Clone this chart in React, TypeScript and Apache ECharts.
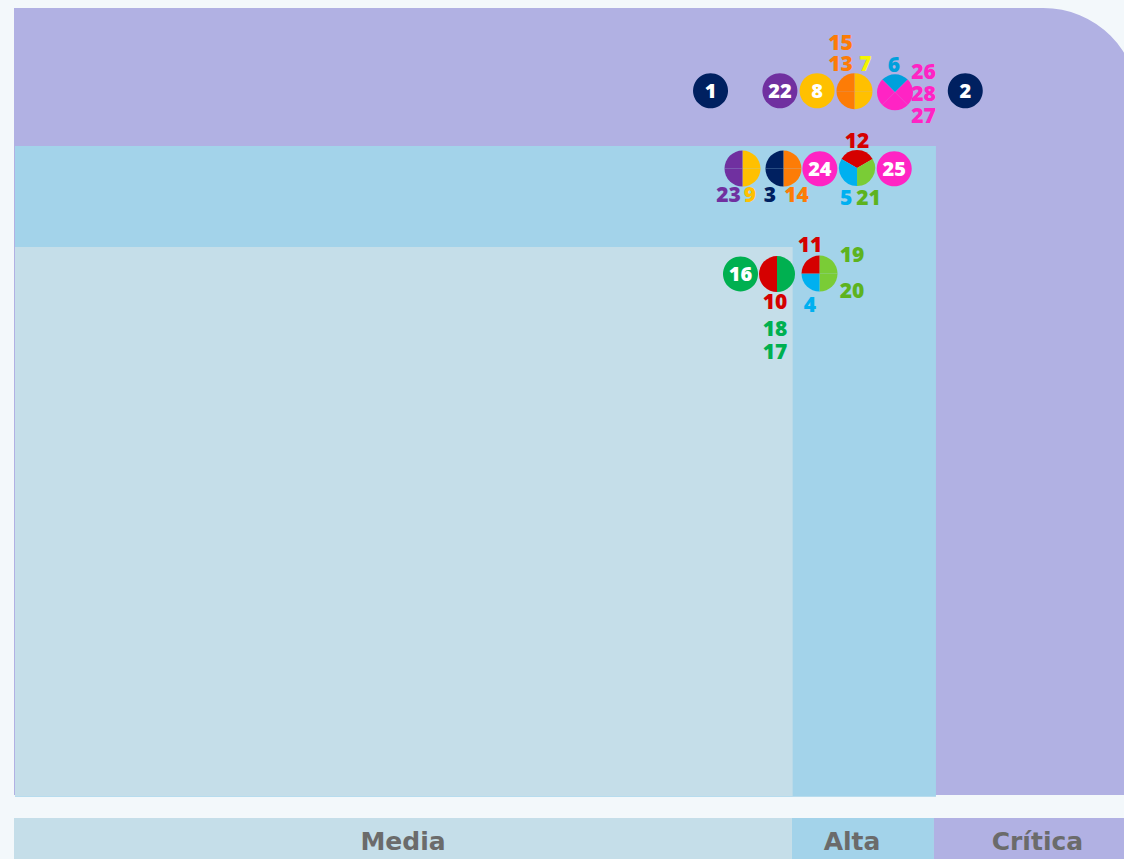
import React, { useEffect, useRef } from "react";
import * as echarts from "echarts";

// Risk zones (x = impacto, y = probabilidad, 0..100 scale)
const zoneNames = ["Media", "Alta", "Crítica"];
const zoneImpactMax = [70.15, 83.06, 101.3];
const zoneProbMax = [69.67, 82.49, 100];
const bandLabelX = [35.05, 75.5, 92.2];

// Single-risk markers
const singleIds = ["1", "22", "8", "2", "24", "25", "16"];
const singleX = [62.75, 69.0, 72.35, 85.7, 72.6, 79.3, 65.45];
const singleY = [89.5, 89.5, 89.5, 89.5, 79.6, 79.6, 66.25];

// Multi-risk markers (clusters)
const clusterX = [75.72, 79.37, 65.63, 69.32, 75.95, 68.74, 72.57];
const clusterY = [89.45, 89.3, 79.63, 79.63, 79.7, 66.24, 66.3];
const clusterRisks = [
  ["15", "13", "7"],
  ["6", "26", "28", "27"],
  ["23", "9"],
  ["3", "14"],
  ["12", "5", "21"],
  ["10", "18", "17"],
  ["11", "4", "19", "20"],
];

// Layout: segment of each cluster (risk id, start deg, end deg; clockwise from right)
const clusterSegments: [string, number, number][][] = [
  [["7", -90, 0], ["7", 0, 90], ["13", 90, 180], ["15", 180, 270]],
  [["6", -135, -45], ["26", -45, 45], ["28", 45, 135], ["27", 135, 225]],
  [["9", -90, 0], ["9", 0, 90], ["23", 90, 180], ["23", 180, 270]],
  [["14", -90, 0], ["14", 0, 90], ["3", 90, 180], ["3", 180, 270]],
  [["12", -150, -30], ["21", -30, 90], ["5", 90, 210]],
  [["18", -90, 0], ["17", 0, 90], ["10", 90, 180], ["10", 180, 270]],
  [["19", -90, 0], ["20", 0, 90], ["4", 90, 180], ["11", 180, 270]],
];
// Layout: label offsets (px) from the cluster centre, in clusterRisks order
const clusterLabelOffsets: [number, number][][] = [
  [[-14, -49.5], [-14, -28], [11, -28]],
  [[-1, -28.5], [28.5, -21.5], [28.5, 1], [28.5, 22.5]],
  [[-14, 25.5], [7.5, 25.5]],
  [[-13.5, 25.5], [13, 25.5]],
  [[0, -28], [-11, 29], [11.5, 29]],
  [[-2, 26.5], [-2, 53.5], [-2, 76.5]],
  [[-9.5, -30], [-9.5, 30], [32.5, -19.5], [32.5, 16.5]],
];

// Styles
const NAVY = "#002060";
const PURPLE = "#7030a0";
const GOLD = "#ffc000";
const ORANGE = "#fd7c06";
const BLUE = "#00a0dc";
const MAGENTA = "#ff24c4";
const RED = "#d50000";
const CYAN = "#00b0f0";
const LGREEN = "#7acc36";
const GREEN = "#00b050";
const fillColor: Record<string, string> = {
  "1": NAVY, "2": NAVY, "3": NAVY,
  "22": PURPLE, "23": PURPLE,
  "7": GOLD, "8": GOLD, "9": GOLD,
  "13": ORANGE, "14": ORANGE, "15": ORANGE,
  "6": BLUE,
  "24": MAGENTA, "25": MAGENTA, "26": MAGENTA, "27": MAGENTA, "28": MAGENTA,
  "10": RED, "11": RED, "12": RED,
  "4": CYAN, "5": CYAN,
  "19": LGREEN, "20": LGREEN, "21": LGREEN,
  "16": GREEN, "17": GREEN, "18": GREEN,
};
const textColor: Record<string, string> = {
  ...fillColor,
  "7": "#f5f500",
  "19": "#5db31f",
  "20": "#5db31f",
  "21": "#5db31f",
};
const zoneColors = ["#c5dee9", "#a3d3ea", "#b1b1e3"];
const NUM_FONT = "'Open Sans', 'Noto Sans', sans-serif";

type LabelGroup = { ids: string[]; dx: number; dys: number[]; color: string };

export default function App() {
  const ref = useRef<HTMLDivElement>(null);
  useEffect(() => {
    document.body.style.margin = "0";
    const chart = echarts.init(ref.current!, null, { renderer: "svg" });
    chart.setOption({
      animation: false,
      backgroundColor: "#f3f8fb",
      grid: { left: 14, top: 8, width: 1110, height: 788 },
      xAxis: { type: "value", min: 0, max: 100, show: false },
      yAxis: { type: "value", min: 0, max: 100, show: false },
      series: [
        {
          type: "custom",
          z: 3,
          clip: false,
          data: clusterX.map((x, i) => [x, clusterY[i]]),
          renderItem: (params: any, api: any) => {
            const i = params.dataIndex;
            const c = api.coord([api.value(0), api.value(1)]);
            const cx = c[0];
            const cy = c[1];
            const children: any[] = [];
            clusterSegments[i].forEach(([id, a0, a1]) => {
              children.push({
                type: "sector",
                shape: {
                  cx, cy, r: 18, r0: 0,
                  startAngle: (a0 * Math.PI) / 180,
                  endAngle: (a1 * Math.PI) / 180,
                  clockwise: true,
                },
                style: { fill: fillColor[id] },
              });
            });
            // stack labels of the same colour that sit directly above each other
            const groups: LabelGroup[] = [];
            clusterRisks[i].forEach((id, k) => {
              const [dx, dy] = clusterLabelOffsets[i][k];
              const color = textColor[id];
              const g = groups.find(
                (gr) => gr.dx === dx && gr.color === color && Math.abs(gr.dys[gr.dys.length - 1] - dy) < 25
              );
              if (g) {
                g.ids.push(id);
                g.dys.push(dy);
              } else {
                groups.push({ ids: [id], dx, dys: [dy], color });
              }
            });
            groups.forEach((g) => {
              const n = g.ids.length;
              const lh = n > 1 ? (g.dys[n - 1] - g.dys[0]) / (n - 1) : 20;
              const mid = (g.dys[0] + g.dys[n - 1]) / 2;
              children.push({
                type: "text",
                x: cx + g.dx,
                y: cy + mid,
                style: {
                  text: g.ids.join("\n"),
                  fill: g.color,
                  fontSize: 21,
                  lineHeight: lh,
                  fontWeight: 800,
                  fontFamily: NUM_FONT,
                  align: "center",
                  verticalAlign: "middle",
                },
              });
            });
            return { type: "group", children };
          },
        },
        {
          type: "scatter",
          z: 3,
          symbol: "circle",
          symbolSize: 35,
          itemStyle: { opacity: 1 },
          emphasis: { disabled: true },
          data: singleIds.map((id, i) => ({
            name: id,
            value: [singleX[i], singleY[i]],
            itemStyle: { color: fillColor[id], opacity: 1 },
          })),
          label: {
            show: true,
            position: "inside",
            formatter: "{b}",
            color: "#ffffff",
            fontSize: 20,
            fontWeight: 800,
            fontFamily: NUM_FONT,
          },
        },
      ],
    });

    const px = (x: number, y: number) =>
      chart.convertToPixel({ gridIndex: 0 }, [x, y]) as number[];
    const [left, bottom] = px(0, 0);
    const graphics: any[] = [];
    // Crítica (whole area, rounded top-right corner)
    const critTR = px(zoneImpactMax[2], zoneProbMax[2]);
    graphics.push({
      type: "rect",
      z: 0,
      shape: { x: left, y: critTR[1], width: critTR[0] - left, height: bottom - 1 - critTR[1], r: [0, 95, 0, 0] },
      style: { fill: zoneColors[2] },
    });
    const altaTR = px(zoneImpactMax[1], zoneProbMax[1]);
    graphics.push({
      type: "rect",
      z: 1,
      shape: { x: left + 1, y: altaTR[1], width: altaTR[0] - left - 1, height: bottom + 0.7 - altaTR[1] },
      style: { fill: zoneColors[1] },
    });
    const mediaTR = px(zoneImpactMax[0], zoneProbMax[0]);
    graphics.push({
      type: "rect",
      z: 2,
      shape: { x: left + 1, y: mediaTR[1], width: mediaTR[0] - left - 1, height: bottom - mediaTR[1] },
      style: { fill: zoneColors[0] },
    });
    // Bottom band with zone names
    const bandTop = bottom + 22;
    let x0 = left;
    zoneNames.forEach((name, i) => {
      const x1 = i === 0 ? px(zoneImpactMax[0], 0)[0] - 0.7 : i === 1 ? px(zoneImpactMax[1], 0)[0] - 2 : px(zoneImpactMax[2], 0)[0];
      graphics.push({
        type: "rect",
        z: 0,
        shape: { x: x0, y: bandTop, width: x1 - x0, height: 859 - bandTop + 2 },
        style: { fill: zoneColors[i] },
      });
      graphics.push({
        type: "text",
        z: 1,
        x: px(bandLabelX[i], 0)[0],
        y: bandTop + 23,
        style: {
          text: name,
          fill: "#6b6b6b",
          fontSize: 25,
          fontWeight: "bold",
          fontFamily: "'DejaVu Sans', sans-serif",
          align: "center",
          verticalAlign: "middle",
        },
      });
      x0 = x1;
    });
    chart.setOption({ graphic: graphics });
    return () => chart.dispose();
  }, []);
  return <div ref={ref} style={{ width: 1124, height: 859 }} />;
}
